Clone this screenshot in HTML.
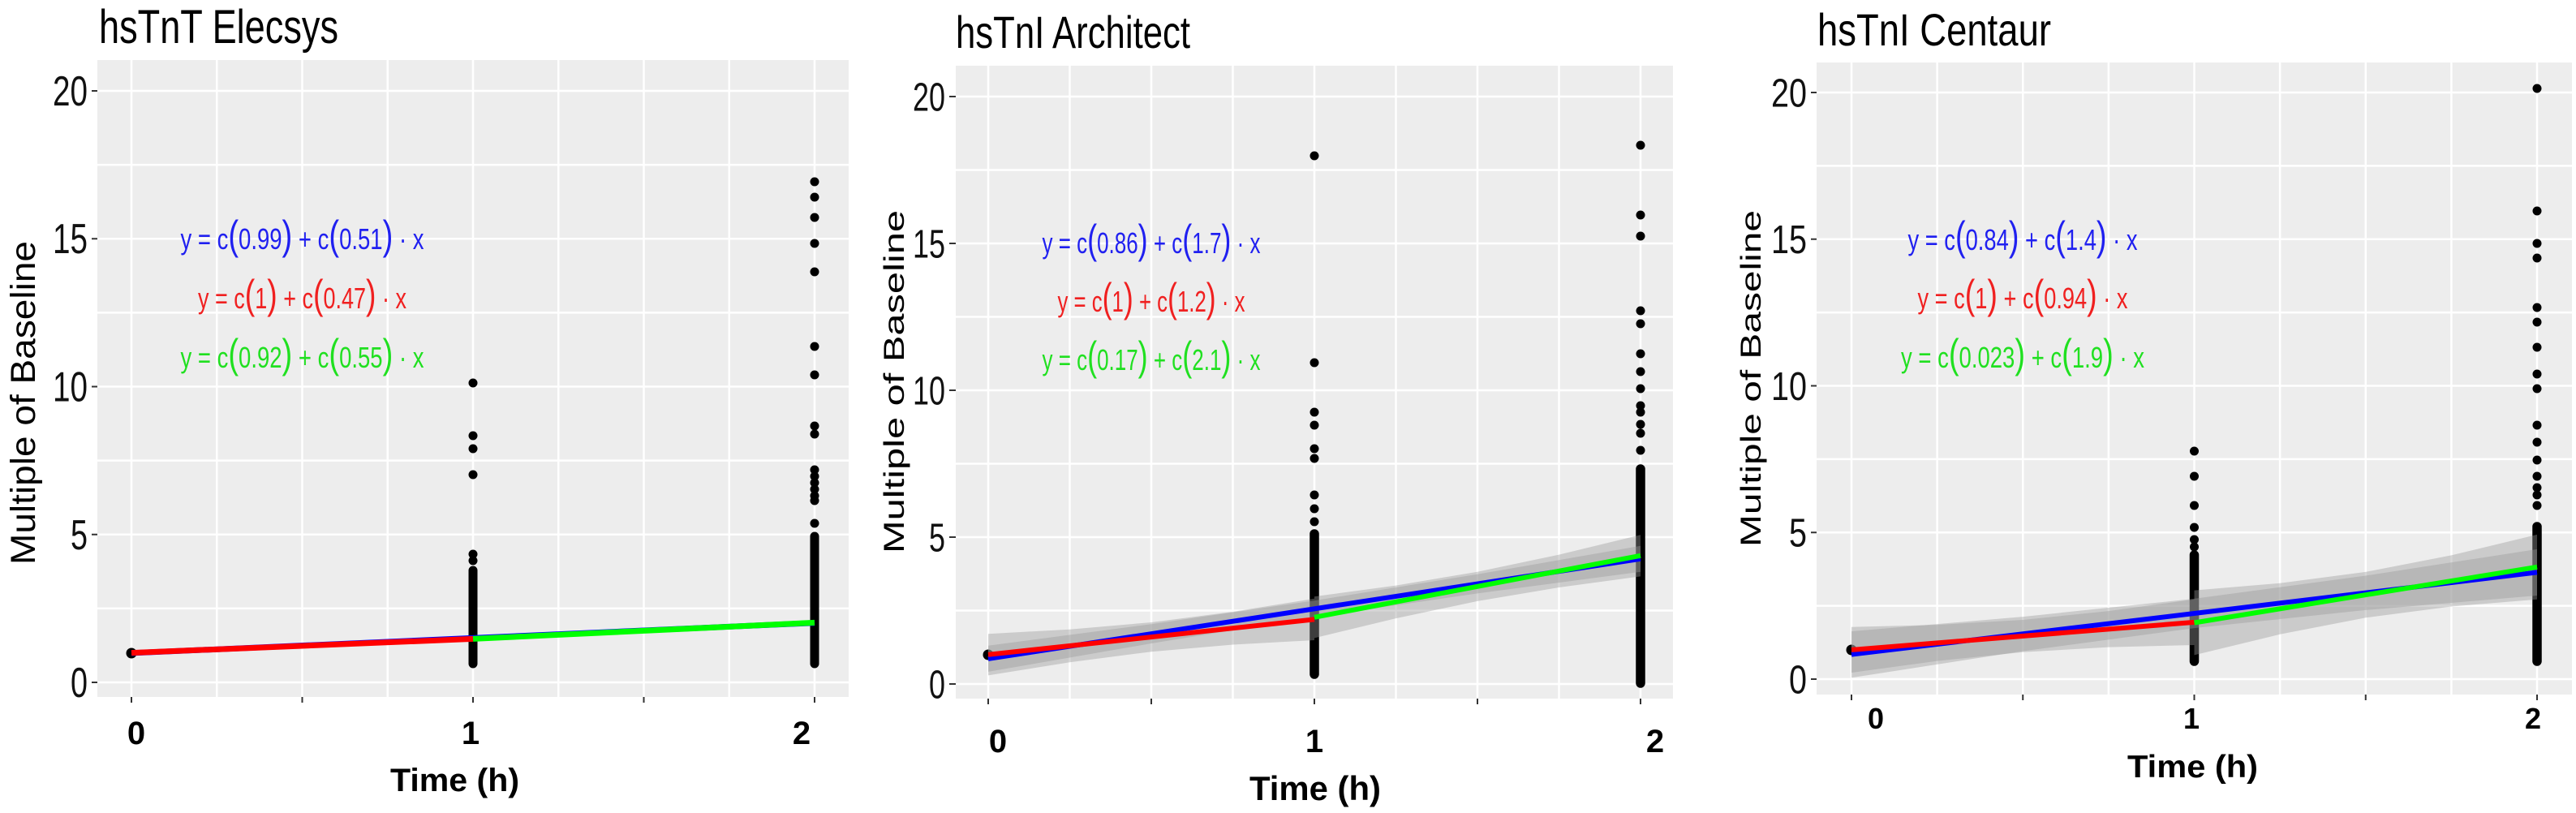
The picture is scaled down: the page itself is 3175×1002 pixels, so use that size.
<!DOCTYPE html>
<html>
<head>
<meta charset="utf-8">
<style>
html,body{margin:0;padding:0;background:#fff;}
svg{display:block;}
</style>
</head>
<body>
<svg width="3175" height="1002" viewBox="0 0 3175 1002" xmlns="http://www.w3.org/2000/svg" font-family="'Liberation Sans', Arial, sans-serif">
<rect x="0" y="0" width="3175" height="1002" fill="#ffffff"/>

<!-- ================= PANEL 1 ================= -->
<rect x="120" y="74" width="926" height="785" fill="#EDEDED"/>
<path d="M162 74V859M267.25 74V859M372.5 74V859M477.75 74V859M583 74V859M688.25 74V859M793.5 74V859M898.75 74V859M1004 74V859
M120 841H1046M120 749.9H1046M120 658.75H1046M120 567.6H1046M120 476.5H1046M120 385.4H1046M120 294.25H1046M120 203.1H1046M120 112H1046" stroke="#ffffff" stroke-width="2.5" fill="none"/>
<path d="M113 841H120M113 658.75H120M113 476.5H120M113 294.25H120M113 112H120M162 859V866M372.5 859V866M583 859V866M793.5 859V866M1004 859V866" stroke="#333" stroke-width="2"/>
<g font-size="52" fill="#111" text-anchor="end">
<text x="108" y="859" textLength="21" lengthAdjust="spacingAndGlyphs">0</text>
<text x="108" y="677" textLength="21" lengthAdjust="spacingAndGlyphs">5</text>
<text x="108" y="494.5" textLength="43" lengthAdjust="spacingAndGlyphs">10</text>
<text x="108" y="312" textLength="43" lengthAdjust="spacingAndGlyphs">15</text>
<text x="108" y="130" textLength="43" lengthAdjust="spacingAndGlyphs">20</text>
</g>
<g font-size="40" font-weight="bold" fill="#000" text-anchor="middle">
<text x="168" y="917">0</text>
<text x="580" y="917">1</text>
<text x="988" y="917">2</text>
</g>
<text x="481" y="975" font-size="40" font-weight="bold" fill="#000" textLength="159" lengthAdjust="spacingAndGlyphs">Time (h)</text>
<text x="122" y="53" font-size="58" fill="#000" textLength="295" lengthAdjust="spacingAndGlyphs">hsTnT Elecsys</text>
<text transform="translate(43,496.5) rotate(-90)" text-anchor="middle" font-size="43" fill="#000" textLength="399" lengthAdjust="spacingAndGlyphs">Multiple of Baseline</text>
<!-- points -->
<g fill="#000">
<circle cx="162" cy="805" r="6.5"/>
<circle cx="583" cy="472" r="5.5"/><circle cx="583" cy="537" r="5.5"/><circle cx="583" cy="553" r="5.5"/><circle cx="583" cy="585" r="5.5"/><circle cx="583" cy="683" r="5.5"/><circle cx="583" cy="691" r="5.5"/>
<circle cx="1004" cy="224" r="5.5"/><circle cx="1004" cy="243" r="5.5"/><circle cx="1004" cy="268" r="5.5"/><circle cx="1004" cy="300" r="5.5"/><circle cx="1004" cy="335" r="5.5"/><circle cx="1004" cy="427" r="5.5"/><circle cx="1004" cy="462" r="5.5"/><circle cx="1004" cy="525" r="5.5"/><circle cx="1004" cy="535" r="5.5"/><circle cx="1004" cy="579" r="5.5"/><circle cx="1004" cy="587" r="5.5"/><circle cx="1004" cy="595" r="5.5"/><circle cx="1004" cy="603" r="5.5"/><circle cx="1004" cy="611" r="5.5"/><circle cx="1004" cy="617" r="5.5"/><circle cx="1004" cy="645" r="5.5"/>
</g>
<path d="M583 703V818M1004 661V818" stroke="#000" stroke-width="11" stroke-linecap="round"/>
<!-- lines -->
<line x1="162" y1="804.9" x2="1004" y2="767.7" stroke="#0000FF" stroke-width="7"/>
<line x1="162" y1="804.6" x2="583" y2="787.4" stroke="#FF0000" stroke-width="7"/>
<line x1="583" y1="787.4" x2="1004" y2="767.4" stroke="#00FF00" stroke-width="7"/>
<!-- equations -->
<text x="372.5" y="307" text-anchor="middle" font-size="36" fill="#2020F0" textLength="300" lengthAdjust="spacingAndGlyphs">y = c<tspan font-size="50">(</tspan>0.99<tspan font-size="50">)</tspan> + c<tspan font-size="50">(</tspan>0.51<tspan font-size="50">)</tspan> · x</text>
<text x="372.5" y="380" text-anchor="middle" font-size="36" fill="#F02020" textLength="257" lengthAdjust="spacingAndGlyphs">y = c<tspan font-size="50">(</tspan>1<tspan font-size="50">)</tspan> + c<tspan font-size="50">(</tspan>0.47<tspan font-size="50">)</tspan> · x</text>
<text x="372.5" y="453" text-anchor="middle" font-size="36" fill="#20E020" textLength="300" lengthAdjust="spacingAndGlyphs">y = c<tspan font-size="50">(</tspan>0.92<tspan font-size="50">)</tspan> + c<tspan font-size="50">(</tspan>0.55<tspan font-size="50">)</tspan> · x</text>

<!-- ================= PANEL 2 ================= -->
<rect x="1178" y="81" width="884" height="780" fill="#EDEDED"/>
<path d="M1218 81V861M1318.5 81V861M1419 81V861M1519.5 81V861M1620 81V861M1720.5 81V861M1821 81V861M1921.5 81V861M2022 81V861
M1178 843H2062M1178 752.5H2062M1178 662H2062M1178 571.5H2062M1178 481H2062M1178 390.5H2062M1178 300H2062M1178 209.5H2062M1178 119H2062" stroke="#ffffff" stroke-width="2.5" fill="none"/>
<path d="M1170 843H1178M1170 662H1178M1170 481H1178M1170 300H1178M1170 119H1178M1218 861V868M1419 861V868M1620 861V868M1821 861V868M2022 861V868" stroke="#333" stroke-width="2"/>
<g font-size="49" fill="#111" text-anchor="end">
<text x="1165" y="860.5" textLength="20" lengthAdjust="spacingAndGlyphs">0</text>
<text x="1165" y="679.5" textLength="20" lengthAdjust="spacingAndGlyphs">5</text>
<text x="1165" y="498.5" textLength="40" lengthAdjust="spacingAndGlyphs">10</text>
<text x="1165" y="317.5" textLength="40" lengthAdjust="spacingAndGlyphs">15</text>
<text x="1165" y="136.5" textLength="40" lengthAdjust="spacingAndGlyphs">20</text>
</g>
<g font-size="40" font-weight="bold" fill="#000" text-anchor="middle">
<text x="1230" y="927">0</text>
<text x="1620" y="927">1</text>
<text x="2040" y="927">2</text>
</g>
<text x="1540" y="986" font-size="42" font-weight="bold" fill="#000" textLength="162" lengthAdjust="spacingAndGlyphs">Time (h)</text>
<text x="1178" y="59" font-size="56" fill="#000" textLength="289" lengthAdjust="spacingAndGlyphs">hsTnI Architect</text>
<text transform="translate(1114,470.5) rotate(-90)" text-anchor="middle" font-size="35" fill="#000" textLength="423" lengthAdjust="spacingAndGlyphs">Multiple of Baseline</text>
<g fill="#000">
<circle cx="1218" cy="807" r="6.5"/>
<circle cx="1620" cy="192" r="5.5"/><circle cx="1620" cy="447" r="5.5"/><circle cx="1620" cy="508" r="5.5"/><circle cx="1620" cy="524" r="5.5"/><circle cx="1620" cy="553" r="5.5"/><circle cx="1620" cy="565" r="5.5"/><circle cx="1620" cy="610" r="5.5"/><circle cx="1620" cy="627" r="5.5"/><circle cx="1620" cy="643" r="5.5"/>
<circle cx="2022" cy="179" r="5.5"/><circle cx="2022" cy="265" r="5.5"/><circle cx="2022" cy="291" r="5.5"/><circle cx="2022" cy="383" r="5.5"/><circle cx="2022" cy="399" r="5.5"/><circle cx="2022" cy="436" r="5.5"/><circle cx="2022" cy="458" r="5.5"/><circle cx="2022" cy="479" r="5.5"/><circle cx="2022" cy="500" r="5.5"/><circle cx="2022" cy="508" r="5.5"/><circle cx="2022" cy="523" r="5.5"/><circle cx="2022" cy="534" r="5.5"/><circle cx="2022" cy="555" r="5.5"/>
</g>
<path d="M1620 658V831M2022 578V842" stroke="#000" stroke-width="11.5" stroke-linecap="round"/>
<g fill="#999999" fill-opacity="0.4">
<polygon points="1218,795.8 1419,769.2 1620,740.2 1821,707.7 2022,672.8 2022,704.8 1821,731.4 1620,760.5 1419,793.0 1218,827.9"/>
<polygon points="1218,781.2 1318.5,775.7 1419,767.0 1519.5,754.0 1620,737.8 1620,789.0 1519.5,794.5 1419,803.2 1318.5,816.2 1218,832.4"/>
<polygon points="1620,735.2 1720.5,721.6 1821,704.7 1921.5,683.6 2022,659.2 2022,710.4 1921.5,724.0 1821,740.9 1720.5,762.1 1620,786.4"/>
</g>
<line x1="1218" y1="811.9" x2="2022" y2="688.8" stroke="#0000FF" stroke-width="6"/>
<line x1="1218" y1="806.8" x2="1620" y2="763.4" stroke="#FF0000" stroke-width="6"/>
<line x1="1620" y1="760.8" x2="2022" y2="684.8" stroke="#00FF00" stroke-width="6"/>
<text x="1419" y="312" text-anchor="middle" font-size="36" fill="#2020F0" textLength="269" lengthAdjust="spacingAndGlyphs">y = c<tspan font-size="50">(</tspan>0.86<tspan font-size="50">)</tspan> + c<tspan font-size="50">(</tspan>1.7<tspan font-size="50">)</tspan> · x</text>
<text x="1419" y="384" text-anchor="middle" font-size="36" fill="#F02020" textLength="231" lengthAdjust="spacingAndGlyphs">y = c<tspan font-size="50">(</tspan>1<tspan font-size="50">)</tspan> + c<tspan font-size="50">(</tspan>1.2<tspan font-size="50">)</tspan> · x</text>
<text x="1419" y="456" text-anchor="middle" font-size="36" fill="#20E020" textLength="269" lengthAdjust="spacingAndGlyphs">y = c<tspan font-size="50">(</tspan>0.17<tspan font-size="50">)</tspan> + c<tspan font-size="50">(</tspan>2.1<tspan font-size="50">)</tspan> · x</text>

<!-- ================= PANEL 3 ================= -->
<rect x="2239" y="77" width="931" height="779" fill="#EDEDED"/>
<path d="M2282 77V856M2387.6 77V856M2493.25 77V856M2598.9 77V856M2704.5 77V856M2810.1 77V856M2915.75 77V856M3021.4 77V856M3127 77V856
M2239 837H3170M2239 746.6H3170M2239 656.25H3170M2239 565.9H3170M2239 475.5H3170M2239 385.1H3170M2239 294.75H3170M2239 204.4H3170M2239 114H3170" stroke="#ffffff" stroke-width="2.5" fill="none"/>
<path d="M2232 837H2239M2232 656.25H2239M2232 475.5H2239M2232 294.75H2239M2232 114H2239M2282 856V863M2493.25 856V863M2704.5 856V863M2915.75 856V863M3127 856V863" stroke="#333" stroke-width="2"/>
<g font-size="49" fill="#111" text-anchor="end">
<text x="2227" y="854.5" textLength="22" lengthAdjust="spacingAndGlyphs">0</text>
<text x="2227" y="673.7" textLength="22" lengthAdjust="spacingAndGlyphs">5</text>
<text x="2227" y="493" textLength="44" lengthAdjust="spacingAndGlyphs">10</text>
<text x="2227" y="312.2" textLength="44" lengthAdjust="spacingAndGlyphs">15</text>
<text x="2227" y="131.5" textLength="44" lengthAdjust="spacingAndGlyphs">20</text>
</g>
<g font-size="36" font-weight="bold" fill="#000" text-anchor="middle">
<text x="2312" y="898">0</text>
<text x="2701" y="898">1</text>
<text x="3122" y="898">2</text>
</g>
<text x="2622" y="958" font-size="39" font-weight="bold" fill="#000" textLength="161" lengthAdjust="spacingAndGlyphs">Time (h)</text>
<text x="2240" y="56" font-size="56" fill="#000" textLength="288" lengthAdjust="spacingAndGlyphs">hsTnI Centaur</text>
<text transform="translate(2170,466.5) rotate(-90)" text-anchor="middle" font-size="35" fill="#000" textLength="415" lengthAdjust="spacingAndGlyphs">Multiple of Baseline</text>
<g fill="#000">
<circle cx="2282" cy="801" r="6.5"/>
<circle cx="2704.5" cy="556" r="5.5"/><circle cx="2704.5" cy="587" r="5.5"/><circle cx="2704.5" cy="623" r="5.5"/><circle cx="2704.5" cy="650" r="5.5"/><circle cx="2704.5" cy="665" r="5.5"/><circle cx="2704.5" cy="674" r="5.5"/>
<circle cx="3127" cy="109" r="5.5"/><circle cx="3127" cy="260" r="5.5"/><circle cx="3127" cy="300" r="5.5"/><circle cx="3127" cy="318" r="5.5"/><circle cx="3127" cy="379" r="5.5"/><circle cx="3127" cy="397" r="5.5"/><circle cx="3127" cy="428" r="5.5"/><circle cx="3127" cy="461" r="5.5"/><circle cx="3127" cy="479" r="5.5"/><circle cx="3127" cy="524" r="5.5"/><circle cx="3127" cy="545" r="5.5"/><circle cx="3127" cy="567" r="5.5"/><circle cx="3127" cy="587" r="5.5"/><circle cx="3127" cy="601" r="5.5"/><circle cx="3127" cy="610" r="5.5"/><circle cx="3127" cy="623" r="5.5"/>
</g>
<path d="M2704.5 684V815M3127 649V815" stroke="#000" stroke-width="11.5" stroke-linecap="round"/>
<g fill="#999999" fill-opacity="0.4">
<polygon points="2282,778.1 2493.25,760.1 2704.5,737.9 2915.75,709.5 3127,676.9 3127,734.0 2915.75,751.9 2704.5,774.1 2493.25,802.5 2282,835.2"/>
<polygon points="2282,772.7 2387.6,770.1 2493.25,764.0 2598.9,753.1 2704.5,738.7 2704.5,795.0 2598.9,797.6 2493.25,803.7 2387.6,814.6 2282,829.0"/>
<polygon points="2704.5,727.6 2810.1,718.8 2915.75,704.9 3021.4,684.4 3127,658.9 3127,738.7 3021.4,747.5 2915.75,761.3 2810.1,781.8 2704.5,807.4"/>
</g>
<line x1="2282" y1="806.6" x2="3127" y2="705.4" stroke="#0000FF" stroke-width="6"/>
<line x1="2282" y1="800.9" x2="2704.5" y2="766.9" stroke="#FF0000" stroke-width="6"/>
<line x1="2704.5" y1="767.5" x2="3127" y2="698.8" stroke="#00FF00" stroke-width="6"/>
<text x="2493" y="308" text-anchor="middle" font-size="36" fill="#2020F0" textLength="283" lengthAdjust="spacingAndGlyphs">y = c<tspan font-size="50">(</tspan>0.84<tspan font-size="50">)</tspan> + c<tspan font-size="50">(</tspan>1.4<tspan font-size="50">)</tspan> · x</text>
<text x="2493" y="380" text-anchor="middle" font-size="36" fill="#F02020" textLength="259" lengthAdjust="spacingAndGlyphs">y = c<tspan font-size="50">(</tspan>1<tspan font-size="50">)</tspan> + c<tspan font-size="50">(</tspan>0.94<tspan font-size="50">)</tspan> · x</text>
<text x="2493" y="453" text-anchor="middle" font-size="36" fill="#20E020" textLength="300" lengthAdjust="spacingAndGlyphs">y = c<tspan font-size="50">(</tspan>0.023<tspan font-size="50">)</tspan> + c<tspan font-size="50">(</tspan>1.9<tspan font-size="50">)</tspan> · x</text>
</svg>
</body>
</html>
